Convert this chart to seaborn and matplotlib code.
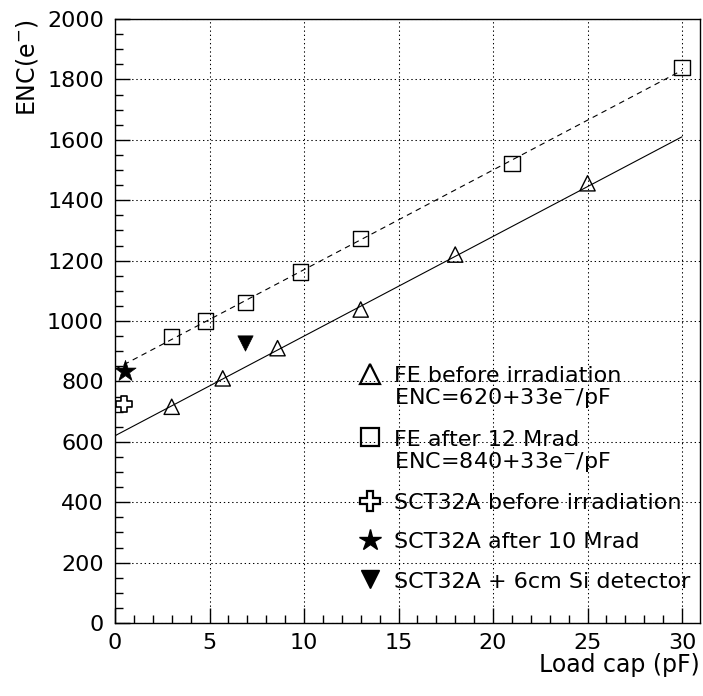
import matplotlib
matplotlib.use("Agg")
import matplotlib.pyplot as plt
from matplotlib.lines import Line2D
from matplotlib.ticker import MultipleLocator
import seaborn as sns

# FE chip, before irradiation (open triangles)
fe_before_x = [3.0, 5.7, 8.6, 13.0, 18.0, 25.0]
fe_before_y = [716, 810, 910, 1038, 1220, 1456]

# FE chip, after 12 Mrad (open squares)
fe_after_x = [3.0, 4.8, 6.9, 9.8, 13.0, 21.0, 30.0]
fe_after_y = [948, 1000, 1061, 1162, 1272, 1522, 1840]

# SCT32A single points
sct_before_x = [0.5]
sct_before_y = [725]
sct_after_x = [0.55]
sct_after_y = [835]
sct_si_x = [6.9]
sct_si_y = [927]

# fitted lines (ENC = 620 + 33 e-/pF and 840 + 33 e-/pF)
fit_x = [0, 30]
fit_before_y = [620, 1610]
fit_after_y = [840, 1830]

legend_labels = [
    "FE before irradiation\nENC=620+33e$^{-}$/pF",
    "FE after 12 Mrad\nENC=840+33e$^{-}$/pF",
    "SCT32A before irradiation",
    "SCT32A after 10 Mrad",
    "SCT32A + 6cm Si detector",
]

sns.set_theme(style="ticks", rc={
    "xtick.direction": "in",
    "ytick.direction": "in",
    "axes.edgecolor": "black",
    "axes.linewidth": 1.0,
})
plt.rcParams["font.family"] = ["DejaVu Sans"]

fig = plt.figure(figsize=(7.03, 6.96), dpi=100)
ax = fig.add_axes([115 / 703, 73 / 696, 585 / 703, 604 / 696])

# fit lines
sns.lineplot(x=fit_x, y=fit_before_y, color="black", linewidth=0.8, ax=ax)
sns.lineplot(x=fit_x, y=fit_after_y, color="black", linewidth=0.8,
             linestyle=(0, (5, 4)), ax=ax)

# data points
sns.scatterplot(x=fe_before_x, y=fe_before_y, marker="^", s=11 ** 2,
                color="black", facecolor="none", edgecolor="black",
                linewidth=1.0, zorder=3, ax=ax)
sns.scatterplot(x=fe_after_x, y=fe_after_y, marker="s", s=11 ** 2,
                color="black", facecolor="none", edgecolor="black",
                linewidth=1.0, zorder=3, ax=ax)
sns.scatterplot(x=sct_before_x, y=sct_before_y, marker="P", s=12 ** 2,
                color="black", facecolor="white", edgecolor="black",
                linewidth=1.2, zorder=3, ax=ax)
sns.scatterplot(x=sct_after_x, y=sct_after_y, marker="*", s=16 ** 2,
                color="black", edgecolor="black", linewidth=0.5,
                zorder=3, ax=ax)
sns.scatterplot(x=sct_si_x, y=sct_si_y, marker="v", s=11 ** 2,
                color="black", edgecolor="black", linewidth=0.5,
                zorder=3, ax=ax)

ax.set_xlim(0, 30.95)
ax.set_ylim(0, 2000)
ax.xaxis.set_major_locator(MultipleLocator(5))
ax.xaxis.set_minor_locator(MultipleLocator(1))
ax.yaxis.set_major_locator(MultipleLocator(200))
ax.yaxis.set_minor_locator(MultipleLocator(50))
ax.tick_params(which="major", length=11, width=1, color="black",
               labelsize=16, labelcolor="black")
ax.tick_params(which="minor", length=6, width=1, color="black")
ax.tick_params(axis="x", which="major", pad=7)
ax.tick_params(axis="y", which="major", pad=8)
ax.grid(True, which="major", color="black", linewidth=0.75,
        linestyle=(0, (1.3, 2.7)))
for side in ["top", "right", "left", "bottom"]:
    ax.spines[side].set_visible(True)
    ax.spines[side].set_color("black")

ax.set_xlabel("Load cap (pF)", fontsize=17, loc="right", color="black")
ax.set_ylabel("ENC(e$^{-}$)", fontsize=17, loc="top", color="black")
ax.xaxis.set_label_coords(1.0, -0.05)
ax.yaxis.set_label_coords(-0.128, 1.0)

handles = [
    Line2D([], [], linestyle="", marker="^", markersize=14,
           markerfacecolor="none", markeredgecolor="black", markeredgewidth=1.6),
    Line2D([], [], linestyle="", marker="s", markersize=13,
           markerfacecolor="none", markeredgecolor="black", markeredgewidth=1.6),
    Line2D([], [], linestyle="", marker="P", markersize=14,
           markerfacecolor="white", markeredgecolor="black", markeredgewidth=1.6),
    Line2D([], [], linestyle="", marker="*", markersize=16,
           markerfacecolor="black", markeredgecolor="black"),
    Line2D([], [], linestyle="", marker="v", markersize=13,
           markerfacecolor="black", markeredgecolor="black"),
]
leg = ax.legend(handles, legend_labels, loc="upper left",
                bbox_to_anchor=(0.415, 0.425), frameon=False, fontsize=16,
                handlelength=1.1, handletextpad=0.55, labelspacing=0.87,
                borderpad=0, borderaxespad=0)
for t in leg.get_texts():
    t.set_color("black")
    t.set_linespacing(1.0)
# put each marker on the first line of its label
for col in leg._legend_handle_box.get_children():
    for row in col.get_children():
        row.align = "top"

fig.savefig("out.png", dpi=100)
